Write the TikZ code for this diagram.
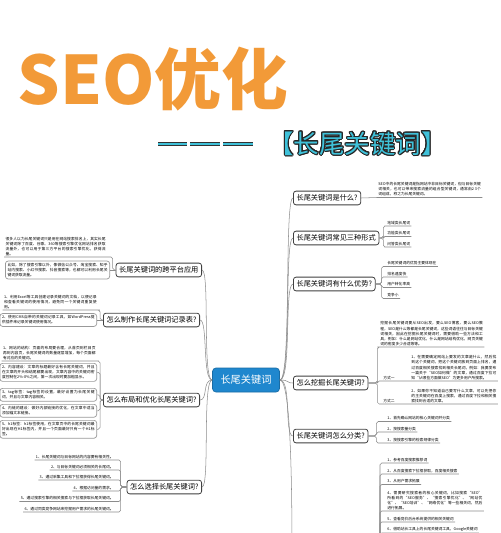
\documentclass[tikz,border=0pt]{standalone}
\usepackage{fontspec}
\setmainfont{Noto Sans CJK SC}
\usepackage[copies]{contour}
\contourlength{0.55pt}
\contournumber{20}
\XeTeXlinebreaklocale "zh"
\XeTeXlinebreakskip = 0pt plus 1pt
\definecolor{seoorange}{HTML}{F29A38}
\definecolor{tagcyan}{HTML}{3FC1D9}
\definecolor{hubblue}{HTML}{1F87CE}
\tikzset{
  hub/.style={fill=hubblue, draw=hubblue!80!black, rounded corners=2pt, text=white,
    font=\fontsize{5.8}{6}\selectfont, minimum width=1.34cm, minimum height=0.48cm},
  topic/.style={draw=black!75, fill=white, rounded corners=1.5pt, line width=0.45pt,
    font=\fontsize{4.1}{5}\selectfont, inner xsep=1.8pt, inner ysep=2pt},
  note/.style={font=\fontsize{2.15}{2.9}\selectfont, inner sep=0.6pt, align=justify},
  notebox/.style={note, draw=black!40, rounded corners=1.5pt, inner sep=1.2pt},
  link/.style={draw=black!45, line width=0.3pt},
  bar/.style={draw=black!80, line width=0.5pt, double=tagcyan, double distance=1pt},
}

\begin{document}
\begin{tikzpicture}[x=0.02cm, y=-0.02cm]
\useasboundingbox (0,0) rectangle (500,533);
\fill[white] (0,0) rectangle (500,533);

% title
\node[font=\fontsize{38}{38}\selectfont\bfseries, text=seoorange, inner sep=0, anchor=west] (seo) at (17,79) {SEO优化};
\draw[bar] (158,144) -- (187,144);
\draw[bar] (190,144) -- (220,144);
\draw[bar] (223,144) -- (253,144);
\node[font=\fontsize{14.5}{15}\selectfont, text=tagcyan, inner sep=0, anchor=west] (tag) at (268,144) {\contour{black!85}{【长尾关键词】}};

% centre and topics
\node[hub] (kw) at (246,380) {长尾关键词};

\node[topic, anchor=west] (what) at (293,198) {长尾关键词是什么?};
\node[topic, anchor=west] (forms) at (293,238) {长尾关键词常见三种形式};
\node[topic, anchor=west] (merit) at (293,284) {长尾关键词有什么优势?};
\node[topic, anchor=west] (mine) at (293,383) {怎么挖掘长尾关键词?};
\node[topic, anchor=west] (sort) at (293,436) {长尾关键词怎么分类?};
\coordinate (more) at (292,565);
\coordinate (moreout) at (372,565);

\node[topic, anchor=east] (cross) at (202,270) {长尾关键词的跨平台应用};
\node[topic, anchor=east] (record) at (200,320) {怎么制作长尾关键词记录表?};
\node[topic, anchor=east] (layout) at (200,400) {怎么布局和优化长尾关键词?};
\node[topic, anchor=east] (choose) at (202,487) {怎么选择长尾关键词?};

\draw[link] (kw.east) .. controls +(12,0) and +(-9,0) .. (what.west);
\draw[link] (kw.east) .. controls +(12,0) and +(-9,0) .. (forms.west);
\draw[link] (kw.east) .. controls +(12,0) and +(-9,0) .. (merit.west);
\draw[link] (kw.east) .. controls +(10,0) and +(-7,0) .. (mine.west);
\draw[link] (kw.east) .. controls +(12,0) and +(-9,0) .. (sort.west);
\draw[link] (kw.east) .. controls +(12,0) and +(0,-60) .. (more);

\draw[link] (kw.west) .. controls +(-10,0) and +(8,0) .. (cross.east);
\draw[link] (kw.west) .. controls +(-10,0) and +(8,0) .. (record.east);
\draw[link] (kw.west) .. controls +(-10,0) and +(8,0) .. (layout.east);
\draw[link] (kw.west) .. controls +(-10,0) and +(8,0) .. (choose.east);

% right leaves
\node[note, text width=2.05cm, anchor=south west] (what1) at (377,197.5) {SEO中的长尾关键词是指网站中非目标关键词，但与目标关键词相关，也可以带来搜索流量的组合型关键词，通常由2~3个词组成，称之为长尾关键词。};
\draw[link] (what.east) -- (what1.south west) -- (what1.south east);

\node[note, anchor=south west] (forms1) at (386,226) {地域类长尾词};
\node[note, anchor=south west] (forms2) at (386,236.5) {功能类长尾词};
\node[note, anchor=south west] (forms3) at (386,247) {问答类长尾词};
\draw[link, rounded corners=1pt] (forms.east) -- +(4,0) |- (forms1.south west) -- (forms1.south east);
\draw[link, rounded corners=1pt] (forms.east) -- +(4,0) |- (forms2.south west) -- (forms2.south east);
\draw[link, rounded corners=1pt] (forms.east) -- +(4,0) |- (forms3.south west) -- (forms3.south east);

\node[note, anchor=south west] (merit1) at (386,266.5) {长尾关键词的优势主要体现在};
\node[note, anchor=south west] (merit2) at (386,277) {排名速度快};
\node[note, anchor=south west] (merit3) at (386,287.5) {用户转化率高};
\node[note, anchor=south west] (merit4) at (386,298.5) {竞争小};
\draw[link, rounded corners=1pt] (merit.east) -- +(6,0) |- (merit1.south west) -- (merit1.south east);
\draw[link, rounded corners=1pt] (merit.east) -- +(6,0) |- (merit2.south west) -- (merit2.south east);
\draw[link, rounded corners=1pt] (merit.east) -- +(6,0) |- (merit3.south west) -- (merit3.south east);
\draw[link, rounded corners=1pt] (merit.east) -- +(6,0) |- (merit4.south west) -- (merit4.south east);

\node[note, text width=2.05cm, anchor=south west] (mine1) at (379,347) {挖掘长尾关键词要从SEO出发，要么SEO博客，要么SEO教程，SEO是什么等都是长尾关键词，这些词语往往与目标关键词相关，因此在挖掘长尾关键词时，需要借助一些方法和工具，例如：什么是网站优化，什么是网站结构优化，网页关键词的密度多少合适等等。};
\node[note, anchor=south west] (mine2) at (382,381) {方式一};
\node[note, text width=1.7cm, anchor=south west] (mine3) at (410,381) {1、在需要确定网站上要发的文章是什么，然后找到这个关键词，把这个关键词放到页面上排名，通过百度相关搜索找到相关长尾词，例如：我要发布一篇关于“SEO如何做”的文章，通过百度下拉可知“从哪些方面做SEO”为更多用户所搜索。};
\node[note, anchor=south west] (mine4) at (382,404) {方式二};
\node[note, text width=1.7cm, anchor=south west] (mine5) at (410,404) {2、如果你不知道自己要写什么文章，可以先把你的主关键词在百度上搜索，通过百度下拉和相关搜索找到合适的文章。};
\draw[link, rounded corners=1pt] (mine.east) -- +(9,0) |- (mine1.south west) -- (mine1.south east);
\draw[link, rounded corners=1pt] (mine.east) -- +(9,0) |- (mine2.south west) -- (mine3.south east);
\draw[link, rounded corners=1pt] (mine.east) -- +(9,0) |- (mine4.south west) -- (mine5.south east);

\node[note, anchor=south west] (sort1) at (386,421.5) {1、首先确认网站的核心关键词并分类};
\node[note, anchor=south west] (sort2) at (386,432) {2、按搜索量分类};
\node[note, anchor=south west] (sort3) at (386,443) {3、按搜索引擎的检索规律分类};
\draw[link, rounded corners=1pt] (sort.east) -- +(8,0) |- (sort1.south west) -- (sort1.south east);
\draw[link, rounded corners=1pt] (sort.east) -- +(8,0) |- (sort2.south west) -- (sort2.south east);
\draw[link, rounded corners=1pt] (sort.east) -- +(8,0) |- (sort3.south west) -- (sort3.south east);

\node[note, anchor=south west] (more1) at (386,463) {1、参考百度搜索推荐词};
\node[note, anchor=south west] (more2) at (386,474) {2、从百度搜索下拉框获取，百度相关搜索};
\node[note, anchor=south west] (more3) at (386,484.5) {3、从用户需求拓展};
\node[note, text width=1.9cm, anchor=south west] (more4) at (386,511) {4、需要研究搜索者的核心关键词，比如搜索“SEO”所看到的“SEO服务”、“搜索引擎优化”、“网站优化”、“SEO培训”、“网络优化”等一些相关词，然后进行拓展。};
\node[note, anchor=south west] (more5) at (386,522) {5、查看竞价后台系统提供的相关关键词};
\node[note, anchor=south west] (more6) at (386,533) {6、借助站长工具上的长尾关键词工具，Google关键词};
\draw[link, rounded corners=1pt] (moreout) -- +(8,0) |- (more1.south west) -- (more1.south east);
\draw[link, rounded corners=1pt] (moreout) -- +(8,0) |- (more2.south west) -- (more2.south east);
\draw[link, rounded corners=1pt] (moreout) -- +(8,0) |- (more3.south west) -- (more3.south east);
\draw[link, rounded corners=1pt] (moreout) -- +(8,0) |- (more4.south west) -- (more4.south east);
\draw[link, rounded corners=1pt] (moreout) -- +(8,0) |- (more5.south west) -- (more5.south east);
\draw[link, rounded corners=1pt] (moreout) -- +(8,0) |- (more6.south west) -- (more6.south east);

% left leaves
\node[note, text width=2.0cm, anchor=south east] (cross1) at (107,257) {很多人以为长尾关键词只是用在网站搜索排名上，其实长尾关键词除了百度、谷歌、360等搜索引擎优化网站排名获取流量外，也可以用于第三方平台的搜索引擎优化，获得流量。};
\node[notebox, text width=2.0cm, anchor=east] (cross2) at (110,270) {比如，除了搜索引擎以外，像微信公众号、淘宝搜索、知乎站内搜索、小红书搜索、抖音搜索等，也都可以利用长尾关键词获取流量。};
\draw[link, rounded corners=1pt] (cross.west) -- +(-3,0) |- (cross1.south east) -- (cross1.south west);
\draw[link] (cross.west) -- (cross2.east);

\node[note, text width=1.85cm, anchor=south east] (record1) at (98,310) {1、利用Excel等工具创建记录关键词的文档，以便记录和查看关键词的使用情况，避免同一个关键词重复使用。};
\node[notebox, text width=1.85cm, anchor=east] (record2) at (97,320) {2、使用CMS自带的关键词记录工具，如WordPress提供插件来记录关键词使用情况。};
\draw[link, rounded corners=1pt] (record.west) -- +(-3,0) |- (record1.south east) -- (record1.south west);
\draw[link] (record.west) -- (record2.east);

\node[note, text width=1.85cm, anchor=south east] (layout1) at (97,361) {1、网站的结构：页面的布局要合理，从首页到栏目页再到内容页，长尾关键词的数量逐层增加，每个页面都有对应的关键词。};
\node[notebox, text width=1.85cm, anchor=north east] (layout2) at (97,363) {2、内容建设：文章的标题最好含有长尾关键词，并且在文章的开头和结尾都要出现，文章内容中的关键词密度控制在2\%-8\%之间，第一次出现时要加粗显示。};
\node[notebox, text width=1.85cm, anchor=north east] (layout3) at (97,388) {3、tag标签：tag标签的设置，最好设置为长尾关键词，并且与文章内容相关。};
\node[notebox, text width=1.85cm, anchor=north east] (layout4) at (97,404) {4、内链的建设：做好内部链接的优化，在文章中适当添加锚文本链接。};
\node[notebox, text width=1.85cm, anchor=north east] (layout5) at (97,420) {5、h1标签：h1标签使用，在文章页中的长尾关键词最好出现在H1标签内，并且一个页面最好只有一个H1标签。};
\draw[link, rounded corners=1pt] (layout.west) -- +(-3,0) |- (layout1.south east) -- (layout1.south west);
\draw[link, rounded corners=1pt] (layout.west) -- +(-3,0) |- (layout2.east);
\draw[link, rounded corners=1pt] (layout.west) -- +(-3,0) |- (layout3.east);
\draw[link, rounded corners=1pt] (layout.west) -- +(-3,0) |- (layout4.east);
\draw[link, rounded corners=1pt] (layout.west) -- +(-3,0) |- (layout5.east);

\node[note, anchor=south east] (choose1) at (115,460) {1、长尾关键词与目标网站的内容要有相关性。};
\node[note, anchor=south east] (choose2) at (115,470) {2、与目标关键词必须相关的长尾词。};
\node[note, anchor=south east] (choose3) at (115,480) {3、通过采集工具和下拉框获得长尾关键词。};
\node[note, anchor=south east] (choose4) at (115,491) {4、根据访问量的需求。};
\node[note, anchor=south east] (choose5) at (115,501.5) {5、通过搜索引擎的相关搜索与下拉框获取长尾关键词。};
\node[note, anchor=south east] (choose6) at (115,512) {6、通过同类竞争网站来挖掘用户需求的长尾关键词。};
\draw[link, rounded corners=1pt] (choose.west) -- +(-6,0) |- (choose1.south east) -- (choose1.south west);
\draw[link, rounded corners=1pt] (choose.west) -- +(-6,0) |- (choose2.south east) -- (choose2.south west);
\draw[link, rounded corners=1pt] (choose.west) -- +(-6,0) |- (choose3.south east) -- (choose3.south west);
\draw[link, rounded corners=1pt] (choose.west) -- +(-6,0) |- (choose4.south east) -- (choose4.south west);
\draw[link, rounded corners=1pt] (choose.west) -- +(-6,0) |- (choose5.south east) -- (choose5.south west);
\draw[link, rounded corners=1pt] (choose.west) -- +(-6,0) |- (choose6.south east) -- (choose6.south west);
\end{tikzpicture}
\end{document}
